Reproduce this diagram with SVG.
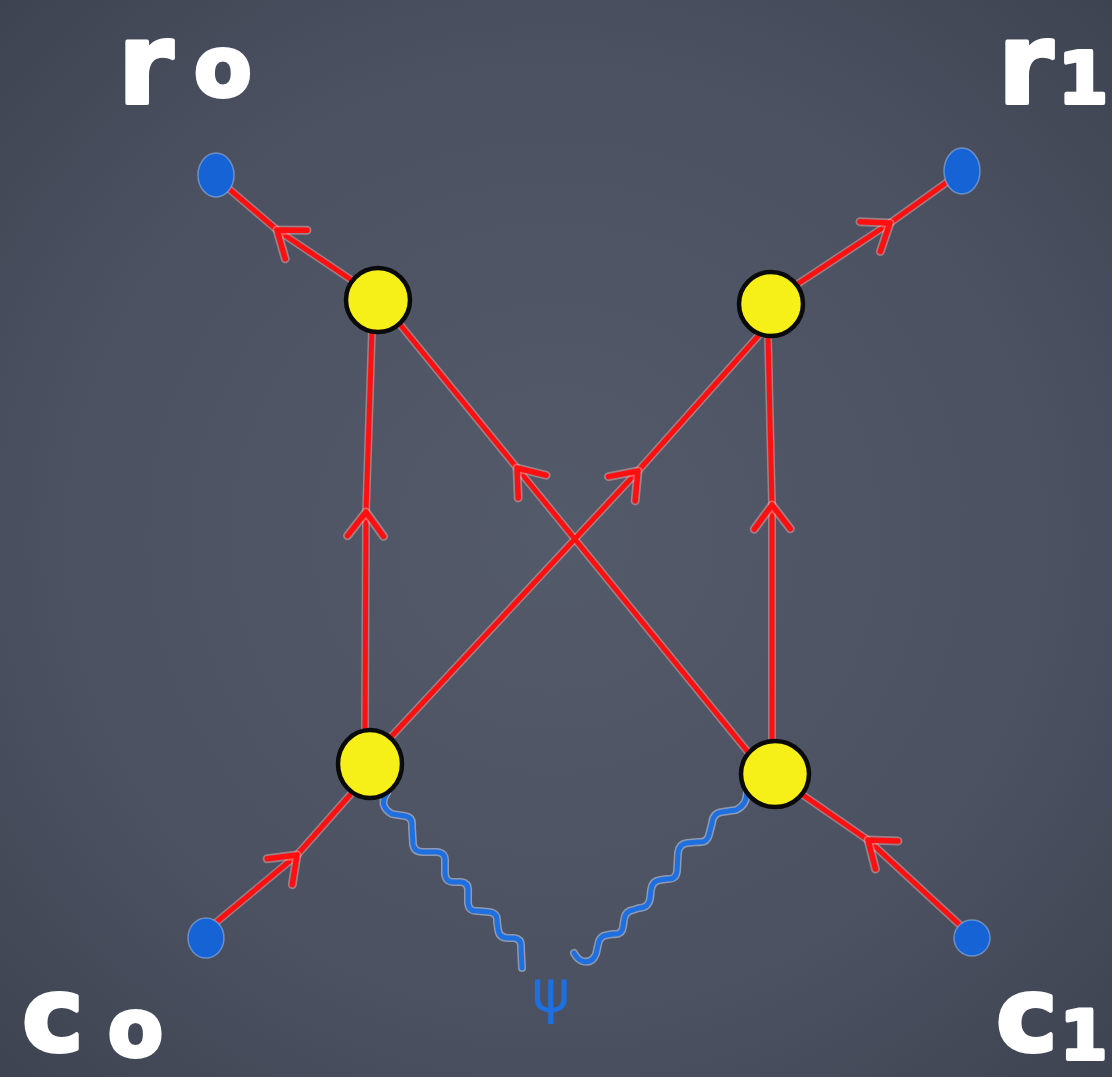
<svg xmlns="http://www.w3.org/2000/svg" width="1112" height="1077" viewBox="0 0 1112 1077">
<defs>
<radialGradient id="bg" cx="50%" cy="50%" r="75%">
<stop offset="0" stop-color="#535a6a"/>
<stop offset="0.6" stop-color="#4b5161"/>
<stop offset="1" stop-color="#3c414e"/>
</radialGradient>
<marker id="arr" markerUnits="userSpaceOnUse" markerWidth="60" markerHeight="60" viewBox="-30 -30 60 60" refX="0" refY="0" orient="auto" overflow="visible">
<path d="M-24,-18 L0,0 L-24,18" fill="none" stroke="#ffb3b3" stroke-opacity="0.45" stroke-width="9" stroke-linecap="round" stroke-linejoin="round"/>
<path d="M-24,-18 L0,0 L-24,18" fill="none" stroke="#ff1010" stroke-width="5.5" stroke-linecap="round" stroke-linejoin="round"/>
</marker>
<style>
.halo{fill:none;stroke:#ffb3b3;stroke-opacity:0.45;stroke-width:8;stroke-linecap:round;stroke-linejoin:round}
.edge{fill:none;stroke:#ff1010;stroke-width:5;stroke-linecap:round;stroke-linejoin:round;marker-mid:url(#arr)}
.wave{fill:none;stroke:#1e6fe0;stroke-width:5;stroke-linecap:round;stroke-linejoin:round}
.wavehalo{fill:none;stroke:#cfe0ff;stroke-opacity:0.5;stroke-width:8;stroke-linecap:round;stroke-linejoin:round}
.vtx{fill:#f6f018;stroke:#0a0a0a;stroke-width:4.5}
.ext{fill:#1663d6;stroke:#a8c4f0;stroke-opacity:0.5;stroke-width:1.5}
.lbl{font-family:"DejaVu Sans",sans-serif;font-weight:bold;fill:#ffffff;stroke:#ffffff;stroke-width:4;stroke-linejoin:round}
</style>
</defs>
<rect width="1112" height="1077" fill="url(#bg)"/>
<g id="connectors">
<path class="halo" d="M356,283 L277,230 L228,188"/>
<path class="halo" d="M793,287 L890,223 L950,180"/>
<path class="halo" d="M365,731 L366,512 L372,330"/>
<path class="halo" d="M772,742 L772,505 L768,336"/>
<path class="halo" d="M390,738 L638,471 L760,334"/>
<path class="halo" d="M748,752 L517,468 L398,322"/>
<path class="halo" d="M213,925 L297,855 L350,795"/>
<path class="halo" d="M960,925 L868,840 L800,793"/>
<path class="edge" d="M356,283 L277,230 L228,188"/>
<path class="edge" d="M793,287 L890,223 L950,180"/>
<path class="edge" d="M365,731 L366,512 L372,330"/>
<path class="edge" d="M772,742 L772,505 L768,336"/>
<path class="edge" d="M390,738 L638,471 L760,334"/>
<path class="edge" d="M748,752 L517,468 L398,322"/>
<path class="edge" d="M213,925 L297,855 L350,795"/>
<path class="edge" d="M960,925 L868,840 L800,793"/>
<path class="wavehalo" d="M387,793 Q378,806 392,814 L405,816 Q413,817 412,827 L413,844 Q414,852 423,852 L437,852 Q446,853 445,862 L445,874 Q446,883 455,882 L461,882 Q469,883 468,892 L468,903 Q469,912 478,911 L489,912 Q498,913 497,922 L498,929 Q499,938 508,938 L514,938 Q522,939 521,948 L522,968"/>
<path class="wave" d="M387,793 Q378,806 392,814 L405,816 Q413,817 412,827 L413,844 Q414,852 423,852 L437,852 Q446,853 445,862 L445,874 Q446,883 455,882 L461,882 Q469,883 468,892 L468,903 Q469,912 478,911 L489,912 Q498,913 497,922 L498,929 Q499,938 508,938 L514,938 Q522,939 521,948 L522,968"/>
<path class="wavehalo" d="M747,793 Q746,806 736,810 L722,812 Q713,813 712,823 L709,835 Q707,843 698,842 L687,843 Q679,844 678,853 L677,871 Q676,880 667,879 L660,880 Q652,881 651,890 L650,899 Q648,908 639,908 L633,910 Q625,911 624,920 L623,927 Q622,935 613,934 L607,935 Q599,936 598,945 L596,954 Q592,964 582,961 Q577,959 574,953"/>
<path class="wave" d="M747,793 Q746,806 736,810 L722,812 Q713,813 712,823 L709,835 Q707,843 698,842 L687,843 Q679,844 678,853 L677,871 Q676,880 667,879 L660,880 Q652,881 651,890 L650,899 Q648,908 639,908 L633,910 Q625,911 624,920 L623,927 Q622,935 613,934 L607,935 Q599,936 598,945 L596,954 Q592,964 582,961 Q577,959 574,953"/>
</g>
<g id="ext-r0"><ellipse class="ext" cx="216" cy="175" rx="18" ry="22"/></g>
<g id="ext-r1"><ellipse class="ext" cx="962" cy="171" rx="18" ry="23"/></g>
<g id="ext-c0"><ellipse class="ext" cx="206" cy="938" rx="18" ry="20"/></g>
<g id="ext-c1"><ellipse class="ext" cx="972" cy="938" rx="18" ry="18"/></g>
<g id="v-tl"><ellipse class="vtx" cx="378" cy="300" rx="32" ry="32"/></g>
<g id="v-tr"><ellipse class="vtx" cx="771" cy="304" rx="32" ry="32"/></g>
<g id="v-bl"><ellipse class="vtx" cx="370" cy="764" rx="32" ry="34"/></g>
<g id="v-br"><ellipse class="vtx" cx="775" cy="774" rx="34" ry="33"/></g>
<g id="label-r0"><text class="lbl" x="118" y="103" font-size="112">r<tspan x="194" y="96" font-size="84">o</tspan></text></g>
<g id="label-r1"><text class="lbl" x="998" y="103" font-size="112">r<tspan x="1058" y="103" font-size="72">1</tspan></text></g>
<g id="label-c0"><text class="lbl" x="22" y="1051" font-size="104">c<tspan x="108" y="1056" font-size="80">o</tspan></text></g>
<g id="label-c1"><text class="lbl" x="996" y="1051" font-size="104">c<tspan x="1060" y="1059" font-size="68">1</tspan></text></g>
<g id="label-psi"><text x="551" y="1012" font-family="DejaVu Sans,sans-serif" font-size="58" fill="#1e6fe0" text-anchor="middle">ψ</text></g>
</svg>
